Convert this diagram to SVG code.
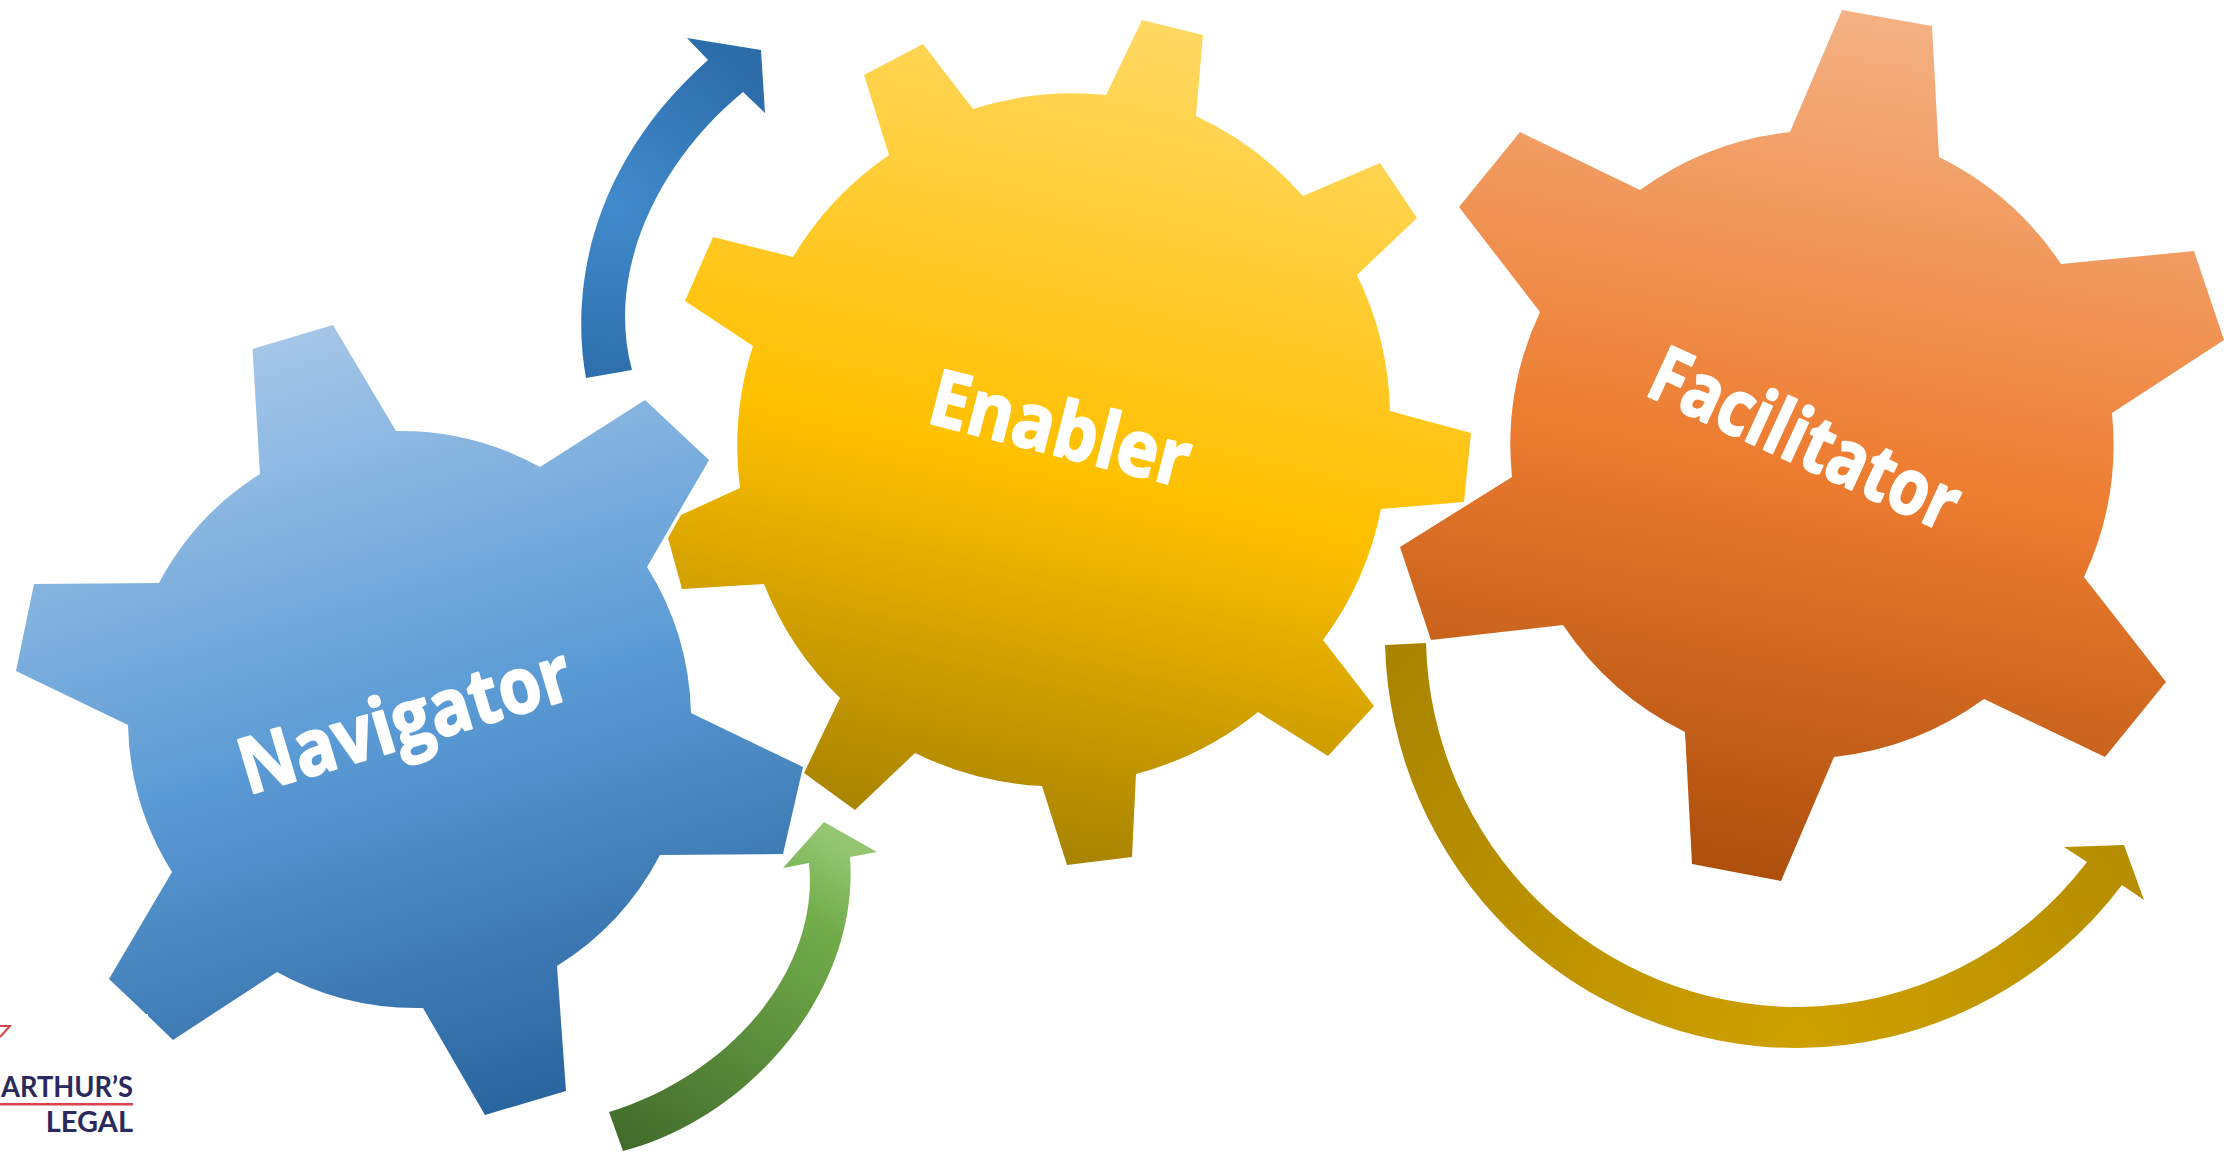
<svg xmlns="http://www.w3.org/2000/svg" width="2224" height="1153" viewBox="0 0 2224 1153">
<style>
.gear-label{font-family:"Open Sans","Liberation Sans",sans-serif;font-weight:700;fill:#fff;stroke:#fff;stroke-width:2;stroke-linejoin:round;font-size:78px}
.logo{font-family:"Lato","Liberation Sans",sans-serif;font-weight:700;fill:#2b2a5e;font-size:29px}
</style>
<defs>
<linearGradient id="gBlue" gradientUnits="userSpaceOnUse" x1="292" y1="337" x2="525" y2="1103"><stop offset="0" stop-color="#a4c6e8"/><stop offset=".5" stop-color="#5b9bd5"/><stop offset="1" stop-color="#2a659f"/></linearGradient>
<linearGradient id="gYellow" gradientUnits="userSpaceOnUse" x1="1225" y1="27" x2="1035" y2="861"><stop offset="0" stop-color="#ffd966"/><stop offset=".55" stop-color="#ffc000"/><stop offset="1" stop-color="#a68200"/></linearGradient>
<linearGradient id="gOrange" gradientUnits="userSpaceOnUse" x1="1887" y1="18" x2="1737" y2="872"><stop offset="0" stop-color="#f4b183"/><stop offset=".52" stop-color="#ed7d31"/><stop offset="1" stop-color="#ae4f0c"/></linearGradient>
<radialGradient id="aBlue" gradientUnits="userSpaceOnUse" cx="615" cy="205" r="190"><stop offset="0" stop-color="#428bcc"/><stop offset="1" stop-color="#2b6ca9"/></radialGradient>
<linearGradient id="aGreen" gradientUnits="userSpaceOnUse" x1="815" y1="830" x2="620" y2="1150"><stop offset="0" stop-color="#94c672"/><stop offset=".2" stop-color="#72ad4a"/><stop offset="1" stop-color="#406a2b"/></linearGradient>
<radialGradient id="aGold" gradientUnits="userSpaceOnUse" cx="1800" cy="1040" r="560"><stop offset="0" stop-color="#cfa000"/><stop offset="1" stop-color="#a98400"/></radialGradient>
</defs>
<rect width="2224" height="1153" fill="#fff"/>
<g id="navigator">
<path fill="url(#gBlue)" d="M252.500 349L333 325L396 431A288 288 0 0 1 540 467L645 400L709 460L647 567A288 288 0 0 1 691 713L803 767L783 854L660 855A288 288 0 0 1 557 966L566 1091L485 1115L423 1008A288 288 0 0 1 277 972L173 1040L148 1016L148 1014L146 1014L109 979L172 872A288 288 0 0 1 128 725L16 671L34 584L159 583A288 288 0 0 1 260 474Z"/>
<text class="gear-label" transform="translate(248 795) rotate(-16.600)" textLength="343" lengthAdjust="spacingAndGlyphs">Navigator</text>
</g>
<g id="enabler">
<path fill="url(#gYellow)" d="M1142 20L1203 35L1196 116A326 326 0 0 1 1303 196L1380 163L1417 218L1357 275A326 326 0 0 1 1390 411L1471 433L1464 502L1381 509A326 326 0 0 1 1323 640L1374 706L1328 756L1258 712A326 326 0 0 1 1136 774L1132 857L1067 865L1042 786A326 326 0 0 1 915 753L855 810L804 773L840 698A326 326 0 0 1 764 584L682 589L668 538L681 515L740 488A326 326 0 0 1 753 346L685 301L713 237L793 257A326 326 0 0 1 889 155L864 75L923 44L973 109A326 326 0 0 1 1106 95Z"/>
<text class="gear-label" transform="translate(925 422) rotate(14.300)" textLength="266" lengthAdjust="spacingAndGlyphs">Enabler</text>
</g>
<g id="facilitator">
<path fill="url(#gOrange)" d="M1842 10L1932 26L1939 157A314 314 0 0 1 2061 264L2194 251L2224 340L2112 413A314 314 0 0 1 2084 577L2166 682L2105 757L1984 699A314 314 0 0 1 1834 757L1781 881L1692 864L1685 732A314 314 0 0 1 1563 625L1431 640L1400 547L1512 477A314 314 0 0 1 1540 312L1459 207L1520 132L1640 190A314 314 0 0 1 1790 132Z"/>
<text class="gear-label" transform="translate(1643 394) rotate(24.700)" textLength="332" lengthAdjust="spacingAndGlyphs">Facilitator</text>
</g>
<g id="connectors">
<path fill="url(#aBlue)" d="M586 378C570 290 590 165 708 60L687 38L761 50L765 113L743 92C660 160 605 270 632 370Z"/>
<path fill="url(#aGreen)" d="M623 1151C750 1118 860 990 850 857L877 852L824 822L783 868L809 863C820 970 730 1075 609 1112Z"/>
<path fill="url(#aGold)" d="M1385 645A412 414 0 0 0 1798 1048A410 414 0 0 0 2122 885L2144 900L2124 845L2064 847L2087 862A368 373 0 0 1 1798 1007A372 373 0 0 1 1426 643Z"/>
</g>
<g id="logo">
<polyline points="0,1026 10,1026 0,1037" fill="none" stroke="#d9444a" stroke-width="2"/>
<text class="logo" x="1" y="1097" textLength="132" lengthAdjust="spacingAndGlyphs">ARTHUR’S</text>
<rect x="0" y="1103" width="133" height="2.500" fill="#d9444a"/>
<text class="logo" x="133" y="1132" text-anchor="end">LEGAL</text>
</g>
</svg>
